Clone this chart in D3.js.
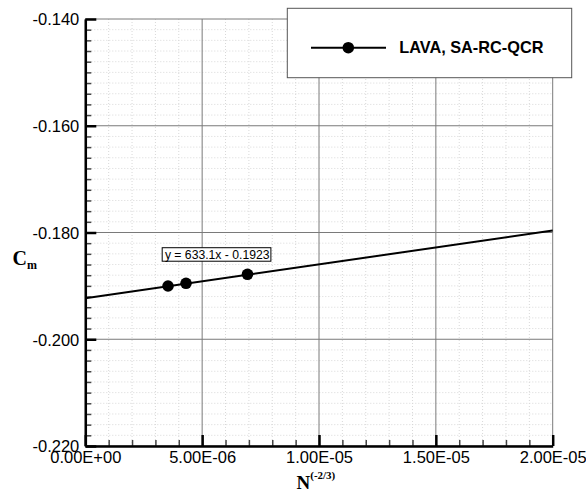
<!DOCTYPE html>
<html>
<head>
<meta charset="utf-8">
<script src="https://cdn.jsdelivr.net/npm/d3@7"></script>
<style>
  html, body { margin: 0; padding: 0; background: #fff; }
  svg { display: block; }
</style>
</head>
<body>
<svg id="chart" width="586" height="497"></svg>
<script>
// ---- data ----
const seriesName = "LAVA, SA-RC-QCR";
const xValues = [3.54e-6, 4.31e-6, 6.94e-6];
const yValues = [-0.19002, -0.18952, -0.18783];
const fitSlope = 633.1;
const fitIntercept = -0.1923;
const fitLabel = "y = 633.1x - 0.1923";
const fitLabelAt = [3.29e-6, -0.18285];
const xTicks = [0, 5e-6, 1e-5, 1.5e-5, 2e-5];
const xTickLabels = ["0.00E+00", "5.00E-06", "1.00E-05", "1.50E-05", "2.00E-05"];
const yTicks = [-0.22, -0.2, -0.18, -0.16, -0.14];
const yTickLabels = ["-0.220", "-0.200", "-0.180", "-0.160", "-0.140"];
const xMinorStep = 1e-6;
const yMinorStep = 0.002;
const xDomain = [0, 2e-5];
const yDomain = [-0.22, -0.14];

// ---- layout ----
const svg = d3.select("#chart");
const L = 85.3, T = 19, W = 467.4, H = 427;
const x = d3.scaleLinear().domain(xDomain).range([L, L + W]);
const y = d3.scaleLinear().domain(yDomain).range([T + H, T]);

const xMinor = d3.range(0, 20.5).map(i => i * xMinorStep).filter(v => v <= xDomain[1] + 1e-12);
const yMinor = d3.range(0, 40.5).map(i => yDomain[0] + i * yMinorStep).filter(v => v <= yDomain[1] + 1e-9);
const isMajorX = v => xTicks.some(t => Math.abs(t - v) < 1e-12);
const isMajorY = v => yTicks.some(t => Math.abs(t - v) < 1e-9);
const xMinorOnly = xMinor.filter(v => !isMajorX(v));
const yMinorOnly = yMinor.filter(v => !isMajorY(v));

const g = svg.append("g");

// minor grid (dotted)
g.append("g").selectAll("line").data(xMinorOnly).join("line")
  .attr("x1", d => x(d)).attr("x2", d => x(d)).attr("y1", T).attr("y2", T + H)
  .attr("stroke", "#d8d8d8").attr("stroke-width", 1).attr("stroke-dasharray", "1,2");
g.append("g").selectAll("line").data(yMinorOnly).join("line")
  .attr("y1", d => y(d)).attr("y2", d => y(d)).attr("x1", L).attr("x2", L + W)
  .attr("stroke", "#d8d8d8").attr("stroke-width", 1).attr("stroke-dasharray", "1,2");

// major grid
g.append("g").selectAll("line").data(xTicks).join("line")
  .attr("x1", d => x(d)).attr("x2", d => x(d)).attr("y1", T).attr("y2", T + H)
  .attr("stroke", "#7a7a7a").attr("stroke-width", 1);
g.append("g").selectAll("line").data(yTicks).join("line")
  .attr("y1", d => y(d)).attr("y2", d => y(d)).attr("x1", L).attr("x2", L + W)
  .attr("stroke", "#7a7a7a").attr("stroke-width", 1);

// minor ticks
g.append("g").attr("transform", `translate(${L},0)`)
  .call(d3.axisLeft(y).tickValues(yMinorOnly).tickSize(-6).tickSizeOuter(0).tickFormat(""))
  .call(s => s.select(".domain").remove())
  .call(s => s.selectAll(".tick line").attr("stroke", "#444").attr("stroke-width", 1.5));
g.append("g").attr("transform", `translate(0,${T + H})`)
  .call(d3.axisBottom(x).tickValues(xMinorOnly).tickSize(-6).tickSizeOuter(0).tickFormat(""))
  .call(s => s.select(".domain").remove())
  .call(s => s.selectAll(".tick line").attr("stroke", "#444").attr("stroke-width", 1.5));

// major axes
const yAxis = g.append("g").attr("transform", `translate(${L},0)`)
  .call(d3.axisLeft(y).tickValues(yTicks).tickSize(-11).tickSizeOuter(0).tickPadding(6)
    .tickFormat((d, i) => yTickLabels[i]));
yAxis.select(".domain").attr("stroke", "#000").attr("stroke-width", 2.5);
yAxis.selectAll(".tick line").attr("stroke", "#000").attr("stroke-width", 2.5);
yAxis.selectAll(".tick text").attr("font-family", "Liberation Sans, Arial, sans-serif")
  .attr("font-size", 16.5).attr("fill", "#000").attr("dy", "0.36em");

const xAxis = g.append("g").attr("transform", `translate(0,${T + H})`)
  .call(d3.axisBottom(x).tickValues(xTicks).tickSize(-11).tickSizeOuter(0).tickPadding(5)
    .tickFormat((d, i) => xTickLabels[i]));
xAxis.select(".domain").attr("stroke", "#000").attr("stroke-width", 2.5);
xAxis.selectAll(".tick line").attr("stroke", "#000").attr("stroke-width", 2.5);
xAxis.selectAll(".tick text").attr("font-family", "Liberation Sans, Arial, sans-serif")
  .attr("font-size", 16.5).attr("fill", "#000").attr("dy", "0.71em");

// fit line
const fitXs = xDomain;
g.append("line")
  .attr("x1", x(fitXs[0])).attr("y1", y(fitSlope * fitXs[0] + fitIntercept))
  .attr("x2", x(fitXs[1])).attr("y2", y(fitSlope * fitXs[1] + fitIntercept))
  .attr("stroke", "#000").attr("stroke-width", 2);

// points
g.append("g").selectAll("circle").data(xValues).join("circle")
  .attr("cx", d => x(d)).attr("cy", (d, i) => y(yValues[i])).attr("r", 5.8).attr("fill", "#000");

// fit annotation
const ax = x(fitLabelAt[0]), ay = y(fitLabelAt[1]);
g.append("rect").attr("x", ax).attr("y", ay).attr("width", 108.7).attr("height", 13.5)
  .attr("fill", "#fff").attr("stroke", "#000").attr("stroke-width", 1);
g.append("text").attr("x", ax + 2.7).attr("y", ay + 10.8)
  .attr("font-family", "Liberation Sans, Arial, sans-serif").attr("font-size", 12.2)
  .attr("fill", "#000").text(fitLabel);

// legend
const lg = svg.append("g");
lg.append("rect").attr("x", 287.3).attr("y", 8.3).attr("width", 284.4).attr("height", 69.4)
  .attr("fill", "#fff").attr("stroke", "#555").attr("stroke-width", 1);
lg.append("line").attr("x1", 311).attr("x2", 386).attr("y1", 47.7).attr("y2", 47.7)
  .attr("stroke", "#000").attr("stroke-width", 2);
lg.append("circle").attr("cx", 348.3).attr("cy", 47.7).attr("r", 5.8).attr("fill", "#000");
lg.append("text").attr("x", 399.3).attr("y", 53.3)
  .attr("font-family", "Liberation Sans, Arial, sans-serif").attr("font-size", 16.3)
  .attr("font-weight", "bold").attr("fill", "#000").text(seriesName);

// axis titles
const yt = svg.append("text").attr("x", 12.5).attr("y", 265)
  .attr("font-family", "Liberation Serif, Times New Roman, serif").attr("font-weight", "bold")
  .attr("fill", "#000");
yt.append("tspan").attr("font-size", 20).text("C");
yt.append("tspan").attr("font-size", 12).attr("dy", 4).text("m");

const xt = svg.append("text").attr("x", 296.5).attr("y", 489)
  .attr("font-family", "Liberation Serif, Times New Roman, serif").attr("font-weight", "bold")
  .attr("fill", "#000");
xt.append("tspan").attr("font-size", 19).text("N");
xt.append("tspan").attr("font-size", 11).attr("dy", -10).text("(-2/3)");
</script>
</body>
</html>
